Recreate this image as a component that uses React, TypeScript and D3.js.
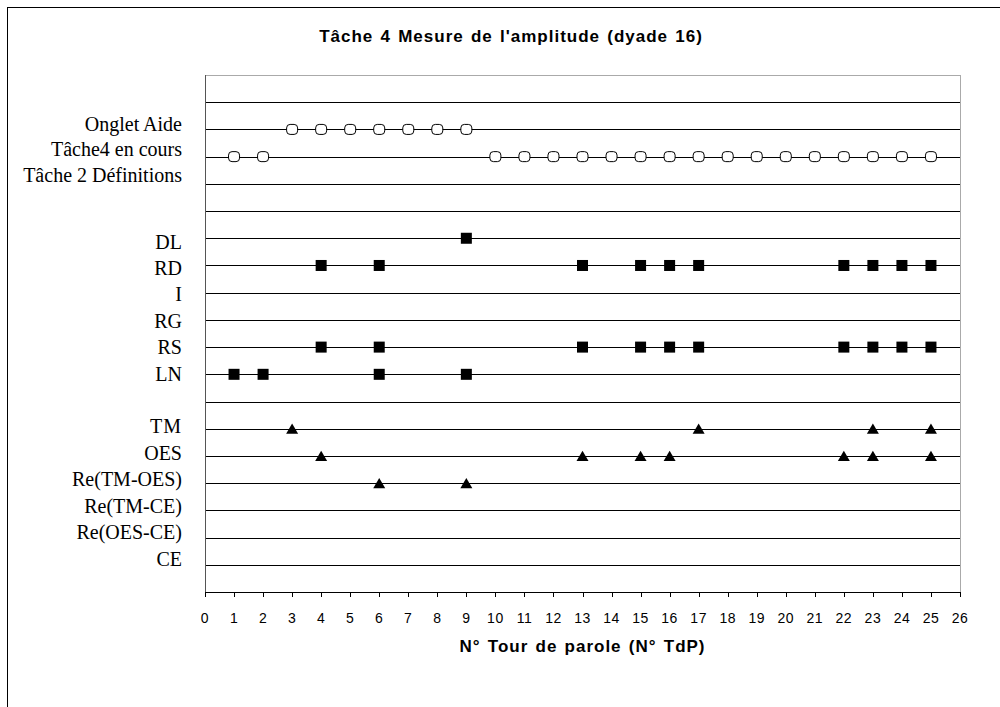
import React from "react";
import * as d3 from "d3";

const categories = [
  "CE",
  "Re(OES-CE)",
  "Re(TM-CE)",
  "Re(TM-OES)",
  "OES",
  "TM",
  "",
  "LN",
  "RS",
  "RG",
  "I",
  "RD",
  "DL",
  "",
  "Tâche 2 Définitions",
  "Tâche4 en cours",
  "Onglet Aide",
  "",
];
// level for each category = index + 1
const xTicks = d3.range(0, 27);

const ongletAide = [3, 4, 5, 6, 7, 8, 9];
const tache4 = [1, 2, 10, 11, 12, 13, 14, 15, 16, 17, 18, 19, 20, 21, 22, 23, 24, 25];
const dl = [9];
const rd = [4, 6, 13, 15, 16, 17, 22, 23, 24, 25];
const rs = [4, 6, 13, 15, 16, 17, 22, 23, 24, 25];
const ln = [1, 2, 6, 9];
const tm = [3, 17, 23, 25];
const oes = [4, 13, 15, 16, 22, 23, 25];
const reTmOes = [6, 9];

const circleSeries = [
  { label: "Onglet Aide", xs: ongletAide },
  { label: "Tâche4 en cours", xs: tache4 },
];
const squareSeries = [
  { label: "DL", xs: dl },
  { label: "RD", xs: rd },
  { label: "RS", xs: rs },
  { label: "LN", xs: ln },
];
const triangleSeries = [
  { label: "TM", xs: tm },
  { label: "OES", xs: oes },
  { label: "Re(TM-OES)", xs: reTmOes },
];

const left = 205;
const right = 960;
const top = 75;
const bottom = 592;

const SANS = "'Liberation Sans', Arial, Helvetica, sans-serif";
const SERIF = "'Liberation Serif', 'Times New Roman', Times, serif";

export default function App() {
  const x = d3.scaleLinear().domain([0, 26]).range([left, right]);
  const y = d3.scaleLinear().domain([0, 19]).range([bottom, top]);
  // the category labels sit in two text blocks with their own line spacing
  const labelLower = d3.scaleLinear().domain([1, 13]).range([565.5, 248.5]);
  const labelUpper = d3.scaleLinear().domain([15, 17]).range([181.5, 130.5]);
  const labelY = (lv: number) => (lv <= 13 ? labelLower(lv) : labelUpper(lv));
  const levelOf = (label: string) => categories.indexOf(label) + 1;
  const tri = "M0,-5.2L6,5L-6,5Z";

  return (
    <svg
      width={1000}
      height={707}
      style={{ position: "absolute", left: 0, top: 0, background: "#fff" }}
    >
      <rect x={7.5} y={7.5} width={1010} height={720} fill="#fff" stroke="#000" strokeWidth={1} />
      <text
        x={511}
        y={42}
        textAnchor="middle"
        fontFamily={SANS}
        fontWeight="bold"
        fontSize={17}
        letterSpacing={1}
        wordSpacing={1.5}
      >
        Tâche 4 Mesure de l'amplitude (dyade 16)
      </text>

      {/* plot frame */}
      <rect x={left + 0.5} y={top + 0.5} width={right - left} height={bottom - top} fill="none" stroke="#aaa" strokeWidth={1} />
      {/* grid lines */}
      {d3.range(1, 19).map((lv) => (
        <line key={lv} x1={left} x2={right} y1={Math.round(y(lv)) + 0.5} y2={Math.round(y(lv)) + 0.5} stroke="#000" strokeWidth={1} />
      ))}
      <line x1={left + 0.5} x2={left + 0.5} y1={top} y2={bottom} stroke="#555" />
      <line x1={left} x2={right + 1} y1={bottom + 0.5} y2={bottom + 0.5} stroke="#000" />

      {/* category labels */}
      {categories.map((c, i) =>
        c ? (
          <text
            key={i}
            x={182}
            y={labelY(i + 1)}
            textAnchor="end"
            fontFamily={SERIF}
            fontSize={20}
            letterSpacing={c === "TM" ? 1 : 0}
          >
            {c}
          </text>
        ) : null
      )}

      {/* x ticks */}
      {xTicks.map((t) => (
        <g key={t}>
          <line x1={Math.round(x(t)) + 0.5} x2={Math.round(x(t)) + 0.5} y1={bottom} y2={bottom + 5} stroke="#000" />
          <text
            x={x(t)}
            y={623}
            textAnchor="middle"
            fontFamily={SANS}
            fontSize={14}
            letterSpacing={0.5}
          >
            {t}
          </text>
        </g>
      ))}
      <text
        x={(left + right) / 2}
        y={652}
        textAnchor="middle"
        fontFamily={SANS}
        fontWeight="bold"
        fontSize={17}
        letterSpacing={1}
        wordSpacing={1.5}
      >
        N° Tour de parole (N° TdP)
      </text>

      {/* markers */}
      {circleSeries.map((s) =>
        s.xs.map((v) => (
          <rect
            key={s.label + v}
            x={x(v) - 5.5}
            y={y(levelOf(s.label)) - 5}
            width={11}
            height={10}
            rx={3.5}
            ry={3.5}
            fill="#fff"
            stroke="#000"
            strokeWidth={1}
          />
        ))
      )}
      {squareSeries.map((s) =>
        s.xs.map((v) => (
          <rect
            key={s.label + v}
            x={x(v) - 5.5}
            y={y(levelOf(s.label)) - 5.5}
            width={11}
            height={11}
            fill="#000"
          />
        ))
      )}
      {triangleSeries.map((s) =>
        s.xs.map((v) => (
          <path
            key={s.label + v}
            d={tri}
            transform={`translate(${x(v)},${y(levelOf(s.label))})`}
            fill="#000"
          />
        ))
      )}
    </svg>
  );
}
